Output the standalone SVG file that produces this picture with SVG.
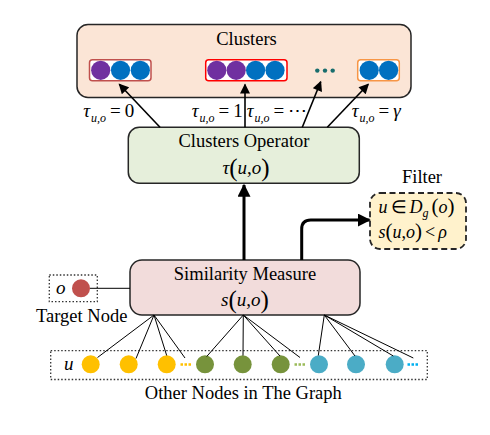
<svg xmlns="http://www.w3.org/2000/svg" width="490" height="435" viewBox="0 0 490 435">
<defs>
<marker id="ah" viewBox="0 0 10 10" refX="9" refY="5" markerWidth="11" markerHeight="10" markerUnits="userSpaceOnUse" orient="auto"><path d="M0,0 L10,5 L0,10 z" fill="#000"/></marker>
<marker id="ahb" viewBox="0 0 10 10" refX="9" refY="5" markerWidth="13" markerHeight="13" markerUnits="userSpaceOnUse" orient="auto"><path d="M0,0 L10,5 L0,10 z" fill="#000"/></marker>
</defs>
<style>
text { font-family: "Liberation Serif", "Times New Roman", serif; fill: #000; }
.t { font-size: 18.5px; }
.m { font-size: 19px; }
.f { font-size: 18px; }
.i { font-style: italic; }
.sub { font-size: 12px; font-style: italic; }
.p { font-size: 25px; }
.pf { font-size: 21px; }
.box { stroke: #262626; stroke-width: 1.5; }
.cl { fill: #fff; stroke-width: 1.5; }
.pu { fill: #7030a0; }
.bl { fill: #0070c0; }
.ln { stroke: #000; stroke-width: 1; fill: none; }
.ar { stroke: #000; stroke-width: 1.6; fill: none; marker-end: url(#ah); }
.dotbox { fill: none; stroke: #333; stroke-width: 1.3; stroke-dasharray: 1.5 2; }
</style>

<g id="clusters">
<rect class="box" x="77" y="24.5" width="334" height="73" rx="11" fill="#fbe5d6"/>
<text class="t" x="246.5" y="45" text-anchor="middle">Clusters</text>
<rect class="cl" x="89.5" y="59.8" width="61.5" height="21" rx="3" stroke="#c0504d"/>
<circle class="pu" cx="100.7" cy="70.3" r="9.6"/>
<circle class="bl" cx="120.5" cy="70.3" r="9.6"/>
<circle class="bl" cx="140.3" cy="70.3" r="9.6"/>
<rect class="cl" x="205.7" y="59.8" width="81.3" height="21" rx="3" stroke="#ff0000"/>
<circle class="pu" cx="216.8" cy="70.3" r="9.6"/>
<circle class="pu" cx="236.2" cy="70.3" r="9.6"/>
<circle class="bl" cx="255.6" cy="70.3" r="9.6"/>
<circle class="bl" cx="275" cy="70.3" r="9.6"/>
<circle cx="317.3" cy="70.6" r="2.2" fill="#186d6d"/>
<circle cx="325" cy="70.6" r="2.2" fill="#186d6d"/>
<circle cx="332.7" cy="70.6" r="2.2" fill="#186d6d"/>
<rect class="cl" x="357.7" y="59.8" width="41.6" height="21" rx="3" stroke="#f79646"/>
<circle class="bl" cx="369.2" cy="70.3" r="9.6"/>
<circle class="bl" cx="388.6" cy="70.3" r="9.6"/>
</g>

<g id="labels">
<text class="m" x="83.3" y="117"><tspan class="i">τ</tspan><tspan class="sub" dx="1" dy="5">u,o</tspan><tspan dx="4" dy="-5">=</tspan><tspan dx="4">0</tspan></text>
<text class="m" x="191.7" y="117"><tspan class="i">τ</tspan><tspan class="sub" dx="1" dy="5">u,o</tspan><tspan dx="4" dy="-5">=</tspan><tspan dx="4">1</tspan></text>
<text class="m" x="246.7" y="117"><tspan class="i">τ</tspan><tspan class="sub" dx="1" dy="5">u,o</tspan><tspan dx="4" dy="-5">=</tspan><tspan dx="4">⋯</tspan></text>
<text class="m" x="351.7" y="117"><tspan class="i">τ</tspan><tspan class="sub" dx="1" dy="5">u,o</tspan><tspan dx="4" dy="-5">=</tspan><tspan class="i" dx="4">γ</tspan></text>
</g>

<g id="operator">
<rect class="box" x="128.3" y="127.3" width="231" height="56" rx="11" fill="#e6efdb"/>
<text class="t" x="244" y="146.7" text-anchor="middle">Clusters Operator</text>
<text class="m" x="246" y="174" text-anchor="middle"><tspan class="i">τ</tspan><tspan class="p" dy="2">(</tspan><tspan class="i" dy="-2">u</tspan>,<tspan class="i">o</tspan><tspan class="p" dy="2">)</tspan></text>
</g>

<g id="filter">
<text class="t" x="422" y="182.7" text-anchor="middle">Filter</text>
<rect x="370" y="193" width="96" height="56" rx="10" fill="#fff2cc" stroke="#262626" stroke-width="1.8" stroke-dasharray="6 3.5"/>
<text class="f" x="378.5" y="213"><tspan class="i">u</tspan><tspan dx="3">∈</tspan><tspan class="i" dx="3">D</tspan><tspan class="sub" dy="4">g</tspan><tspan class="pf" dx="3" dy="-4">(</tspan><tspan class="i">o</tspan><tspan class="pf">)</tspan></text>
<text class="f" x="378.5" y="237.5"><tspan class="i">s</tspan><tspan class="pf">(</tspan><tspan class="i">u</tspan>,<tspan class="i">o</tspan><tspan class="pf">)</tspan><tspan dx="3">&lt;</tspan><tspan class="i" dx="3">ρ</tspan></text>
</g>

<g id="similarity">
<rect class="box" x="130" y="260" width="230" height="55" rx="12" fill="#f2dcdb"/>
<text class="t" x="245" y="280" text-anchor="middle">Similarity Measure</text>
<text class="m" x="245" y="306" text-anchor="middle"><tspan class="i">s</tspan><tspan class="p" dy="2">(</tspan><tspan class="i" dy="-2">u</tspan>,<tspan class="i">o</tspan><tspan class="p" dy="2">)</tspan></text>
</g>

<g id="target">
<rect class="dotbox" x="49.3" y="275" width="48" height="26.7"/>
<text class="m i" x="56" y="293.5">o</text>
<circle cx="81" cy="288.3" r="9" fill="#c0504d"/>
<text class="t" x="81.7" y="321.7" text-anchor="middle">Target Node</text>
</g>

<g id="others">
<rect class="dotbox" x="50.7" y="350.7" width="376.6" height="28.8"/>
<text class="m i" x="64" y="369.5">u</text>
<circle cx="90.7" cy="364.3" r="9" fill="#ffc000"/>
<circle cx="128.7" cy="364.3" r="9" fill="#ffc000"/>
<circle cx="166.7" cy="364.3" r="9" fill="#ffc000"/>
<line x1="180.5" y1="364.5" x2="192" y2="364.5" stroke="#ffc000" stroke-width="2.5" stroke-dasharray="2.5 1.5"/>
<circle cx="205" cy="364.3" r="9" fill="#77933c"/>
<circle cx="242.7" cy="364.3" r="9" fill="#77933c"/>
<circle cx="280.7" cy="364.3" r="9" fill="#77933c"/>
<line x1="294.5" y1="364.5" x2="306" y2="364.5" stroke="#9bbb59" stroke-width="2.5" stroke-dasharray="2.5 1.5"/>
<circle cx="319" cy="364.3" r="9" fill="#4bacc6"/>
<circle cx="356" cy="364.3" r="9" fill="#4bacc6"/>
<circle cx="394.7" cy="364.3" r="9" fill="#4bacc6"/>
<line x1="407.5" y1="364.5" x2="419" y2="364.5" stroke="#00b0f0" stroke-width="2.5" stroke-dasharray="2.5 1.5"/>
<text class="t" x="243.3" y="399.3" text-anchor="middle">Other Nodes in The Graph</text>
</g>

<g id="connectors">
<line class="ar" x1="160" y1="127.3" x2="119.3" y2="84.3"/>
<line class="ar" x1="245" y1="127.3" x2="245" y2="84.5"/>
<line class="ar" x1="302.3" y1="127.3" x2="320.7" y2="81.7"/>
<line class="ar" x1="327.3" y1="127.3" x2="368.3" y2="84.3"/>
<line x1="244" y1="260" x2="244" y2="185" stroke="#000" stroke-width="3" marker-end="url(#ahb)"/>
<path d="M301.7,260 V229 Q301.7,220 310.7,220 H369.5" stroke="#000" stroke-width="3" fill="none" marker-end="url(#ahb)"/>
<line class="ln" x1="90" y1="288.3" x2="130" y2="288.3" stroke-width="1.2"/>
<path class="ln" d="M154,315 L97.5,357.5 M154,315 L136,358.5 M154,315 L166.7,355.5 M154,315 L185,358"/>
<path class="ln" d="M243.3,315 L206.7,356.5 M243.3,315 L243,355.5 M243.3,315 L280,356 M243.3,315 L300,357.5"/>
<path class="ln" d="M324.3,315 L318.3,355.5 M324.3,315 L355,356 M324.3,315 L393.3,356 M324.3,315 L413.3,358"/>
</g>
</svg>
